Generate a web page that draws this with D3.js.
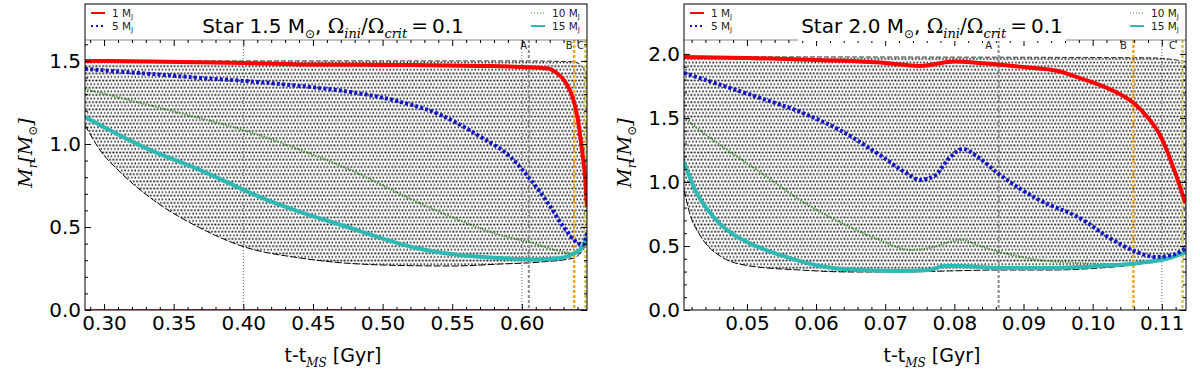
<!DOCTYPE html>
<html>
<head>
<meta charset="utf-8">
<script src="https://cdn.jsdelivr.net/npm/d3@7"></script>
<style>
  body { margin: 0; background: #fff; }
  svg { display: block; }
</style>
</head>
<body>
<script>
// ---- data: [t - t_MS (Gyr), M_r (M_sun)] ----

// Star 1.5 Msun
const s15Red = [[0.2863,1.50],[0.333,1.497],[0.40,1.488],[0.441,1.479],[0.513,1.476],[0.5705,1.47],
  [0.599,1.464],[0.6187,1.455],[0.6245,1.431],[0.6317,1.367],[0.6367,1.277],[0.6403,1.145],
  [0.6432,0.964],[0.6453,0.813],[0.6468,0.62]];
const s15Blue = [[0.2863,1.452],[0.333,1.422],[0.369,1.398],[0.40,1.38],[0.441,1.349],[0.477,1.313],
  [0.513,1.253],[0.5417,1.175],[0.5705,1.042],[0.592,0.92],[0.6065,0.783],[0.6187,0.645],[0.630,0.50],
  [0.640,0.404],[0.644,0.392],[0.6468,0.464]];
const s15Green = [[0.2863,1.331],[0.3597,1.175],[0.40,1.084],[0.441,0.964],[0.477,0.843],[0.5216,0.663],
  [0.5547,0.542],[0.582,0.458],[0.610,0.398],[0.6237,0.361],[0.6374,0.343],[0.6468,0.392]];
const s15Cyan = [[0.2863,1.163],[0.333,0.964],[0.369,0.843],[0.417,0.663],[0.441,0.59],[0.477,0.494],
  [0.50,0.43],[0.5273,0.367],[0.5547,0.331],[0.585,0.313],[0.610,0.304],[0.628,0.313],[0.6374,0.34],
  [0.6424,0.367],[0.6468,0.44]];
const s15HatchTop = [[0.2863,1.50],[0.45,1.50],[0.60,1.50],[0.6374,1.495],[0.6424,1.475],[0.6468,1.43]];
const s15HatchBottom = [[0.2863,1.114],[0.297,0.964],[0.3115,0.831],[0.3353,0.663],[0.369,0.494],
  [0.4007,0.38],[0.441,0.313],[0.50,0.271],[0.549,0.265],[0.585,0.277],[0.6137,0.289],[0.6374,0.313],
  [0.6468,0.398]];
const s15Marks = [0.605, 0.6376, 0.6457];
const s15Dotted = [0.40, 0.60];

// Star 2.0 Msun
const s20Red = [[0.0409,1.977],[0.050,1.969],[0.060,1.953],[0.070,1.93],[0.075,1.906],[0.080,1.94],
  [0.0835,1.93],[0.090,1.898],[0.095,1.867],[0.0981,1.8125],[0.101,1.758],[0.1039,1.6875],
  [0.1061,1.609],[0.1079,1.508],[0.1094,1.398],[0.1107,1.25],[0.1121,1.047],[0.1134,0.836]];
const s20Blue = [[0.0409,1.852],[0.0462,1.758],[0.0519,1.656],[0.0577,1.547],[0.0634,1.406],[0.0692,1.211],
  [0.0728,1.078],[0.075,1.016],[0.0771,1.047],[0.0793,1.188],[0.0812,1.258],[0.0834,1.195],[0.0866,1.055],
  [0.0923,0.859],[0.0981,0.719],[0.1029,0.547],[0.1064,0.453],[0.1092,0.414],[0.1116,0.43],[0.1135,0.484]];
const s20Green = [[0.0409,1.50],[0.0461,1.289],[0.0519,1.078],[0.0577,0.859],[0.0634,0.6875],[0.0692,0.547],
  [0.0736,0.469],[0.0764,0.484],[0.0793,0.531],[0.0811,0.547],[0.0837,0.50],[0.0866,0.453],[0.0923,0.39],
  [0.0981,0.367],[0.1039,0.359],[0.1082,0.375],[0.1135,0.453]];
const s20Cyan = [[0.0409,1.156],[0.0425,0.9375],[0.0447,0.758],[0.0475,0.609],[0.050,0.531],[0.0548,0.43],
  [0.0605,0.344],[0.0663,0.3125],[0.0721,0.305],[0.0764,0.3125],[0.0786,0.344],[0.0808,0.344],[0.0866,0.328],
  [0.0938,0.328],[0.101,0.344],[0.1068,0.367],[0.1111,0.406],[0.1135,0.453]];
const s20HatchTop = [[0.0409,1.977],[0.080,1.975],[0.108,1.97],[0.1111,1.96],[0.1135,1.94]];
const s20HatchBottom = [[0.0409,0.9375],[0.0418,0.742],[0.0432,0.586],[0.0461,0.422],[0.0504,0.344],
  [0.0577,0.3125],[0.0649,0.297],[0.0721,0.297],[0.0793,0.305],[0.0866,0.3125],[0.0938,0.3125],
  [0.101,0.328],[0.1068,0.359],[0.1111,0.406],[0.1135,0.453]];
const s20Marks = [0.0864, 0.1059, 0.1130];
const s20Dotted = [0.11];

const markLabels = ['A', 'B', 'C'];
const markColours = ['#8a8a8a', '#f0a51c', '#c9c94e'];

const width = 1200;
const height = 371;
const plotTop = 4, plotBottom = 310, legendLine = 40;

const svg = d3.select('body').append('svg')
    .attr('width', width)
    .attr('height', height);

const defs = svg.append('defs');
const pat = defs.append('pattern')
    .attr('id', 'dots')
    .attr('patternUnits', 'userSpaceOnUse')
    .attr('width', 3.4)
    .attr('height', 7.2);
pat.append('rect').attr('x', 0.3).attr('y', 0.5).attr('width', 1.8).attr('height', 1.7).attr('fill', '#111');
pat.append('rect').attr('x', 2.0).attr('y', 4.1).attr('width', 1.8).attr('height', 1.7).attr('fill', '#111');

function drawPanel(p) {
    const x = d3.scaleLinear().domain(p.xDomain).range([p.left, p.right]);
    const y = d3.scaleLinear().domain(p.yDomain).range([plotBottom, plotTop]);
    const g = svg.append('g');

    const clipId = 'clip' + p.id;
    defs.append('clipPath').attr('id', clipId)
        .append('rect')
          .attr('x', p.left).attr('y', plotTop)
          .attr('width', p.right - p.left).attr('height', plotBottom - plotTop);
    const plot = g.append('g').attr('clip-path', `url(#${clipId})`);

    const line = d3.line().x(d => x(d[0])).y(d => y(d[1])).curve(d3.curveMonotoneX);
    const straight = d3.line().x(d => x(d[0])).y(d => y(d[1]));

    // hatched envelope
    const back = line(p.hatchBottom.slice().reverse());
    plot.append('path')
        .attr('d', line(p.hatchTop) + 'L' + back.slice(1) + 'Z')
        .attr('fill', 'url(#dots)');
    plot.append('path').datum(p.hatchTop)
        .attr('d', line).attr('fill', 'none')
        .attr('stroke', '#000').attr('stroke-width', 0.8).attr('stroke-dasharray', '5,2');
    plot.append('path').datum(p.hatchBottom)
        .attr('d', line).attr('fill', 'none')
        .attr('stroke', '#000').attr('stroke-width', 1).attr('stroke-dasharray', '7,2');

    // thin dotted guide lines
    plot.selectAll('.guide').data(p.dotted).enter()
        .append('line')
          .attr('x1', d => x(d)).attr('x2', d => x(d))
          .attr('y1', legendLine).attr('y2', plotBottom)
          .attr('stroke', '#444').attr('stroke-width', 0.8).attr('stroke-dasharray', '1,2');

    // phase markers A, B, C
    plot.selectAll('.mark').data(p.marks).enter()
        .append('line')
          .attr('x1', d => x(d)).attr('x2', d => x(d))
          .attr('y1', legendLine).attr('y2', plotBottom)
          .attr('stroke', (d, i) => markColours[i])
          .attr('stroke-width', (d, i) => i === 0 ? 2 : 2.4)
          .attr('stroke-dasharray', '3,2');

    // red line at zero
    if (p.zeroLine) {
        plot.append('path').datum([[p.xDomain[0], 0], [p.xDomain[1], 0]])
            .attr('d', straight).attr('stroke', '#b22').attr('stroke-width', 1.5);
    }

    // curves
    plot.append('path').datum(p.green)
        .attr('d', line).attr('fill', 'none')
        .attr('stroke', '#3d8a2e').attr('stroke-width', 2).attr('stroke-dasharray', '1.2,1.3');
    plot.append('path').datum(p.cyan)
        .attr('d', line).attr('fill', 'none')
        .attr('stroke', '#2fb9b4').attr('stroke-width', 4);
    plot.append('path').datum(p.blue)
        .attr('d', line).attr('fill', 'none')
        .attr('stroke', '#1414c8').attr('stroke-width', 4).attr('stroke-dasharray', '3,2.2');
    plot.append('path').datum(p.red)
        .attr('d', line).attr('fill', 'none')
        .attr('stroke', '#ff0000').attr('stroke-width', 4);

    // legend / title area
    g.append('rect')
        .attr('x', p.left).attr('y', plotTop)
        .attr('width', p.right - p.left).attr('height', legendLine - plotTop)
        .attr('fill', '#fff');
    g.append('line')
        .attr('x1', p.left).attr('x2', p.right)
        .attr('y1', legendLine).attr('y2', legendLine)
        .attr('stroke', '#666').attr('stroke-width', 0.8);

    g.selectAll('.mlabel').data(p.marks).enter()
        .append('text')
          .attr('x', d => x(d) + p.labelShift)
          .attr('y', legendLine + 9)
          .attr('text-anchor', 'middle')
          .attr('font-family', 'DejaVu Sans')
          .attr('font-size', 10)
          .attr('fill', '#222')
          .text((d, i) => markLabels[i]);

    // axes
    const fmtX = d3.format('.2f');
    const styleAxis = sel => {
        sel.select('.domain').remove();
        sel.selectAll('.tick line').attr('stroke', '#000');
        sel.selectAll('text').attr('font-family', 'DejaVu Sans').attr('font-size', 20).attr('fill', '#000');
    };
    g.append('g').attr('transform', `translate(0,${plotBottom})`)
        .call(d3.axisBottom(x).tickValues(p.xMajor).tickFormat(fmtX).tickSize(-6).tickPadding(6))
        .call(styleAxis);
    g.append('g').attr('transform', `translate(0,${plotBottom})`)
        .call(d3.axisBottom(x).tickValues(p.xMinor).tickFormat('').tickSize(-3))
        .call(styleAxis);
    g.append('g').attr('transform', `translate(0,${legendLine})`)
        .call(d3.axisBottom(x).tickValues(p.xMajor).tickFormat('').tickSize(6))
        .call(styleAxis);
    g.append('g').attr('transform', `translate(0,${legendLine})`)
        .call(d3.axisBottom(x).tickValues(p.xMinor).tickFormat('').tickSize(3))
        .call(styleAxis);

    const yMinor = p.yMinor.filter(v => y(v) > legendLine + 2);
    g.append('g').attr('transform', `translate(${p.left},0)`)
        .call(d3.axisLeft(y).tickValues(p.yMajor).tickFormat(d3.format('.1f')).tickSize(-6).tickPadding(4))
        .call(styleAxis);
    g.append('g').attr('transform', `translate(${p.left},0)`)
        .call(d3.axisLeft(y).tickValues(yMinor).tickFormat('').tickSize(-3))
        .call(styleAxis);
    g.append('g').attr('transform', `translate(${p.right},0)`)
        .call(d3.axisRight(y).tickValues(p.yMajor).tickFormat('').tickSize(-6))
        .call(styleAxis);
    g.append('g').attr('transform', `translate(${p.right},0)`)
        .call(d3.axisRight(y).tickValues(yMinor).tickFormat('').tickSize(-3))
        .call(styleAxis);

    // frame
    g.append('rect')
        .attr('x', p.left).attr('y', plotTop)
        .attr('width', p.right - p.left).attr('height', plotBottom - plotTop)
        .attr('fill', 'none').attr('stroke', '#000').attr('stroke-width', 1);

    // title
    const cx = (p.left + p.right) / 2 - 3;
    const titleBox = g.append('rect').attr('fill', '#fff');
    const title = g.append('text')
        .attr('x', cx).attr('y', 33)
        .attr('text-anchor', 'middle')
        .attr('font-family', 'DejaVu Sans')
        .attr('font-size', 20)
        .attr('fill', '#000');
    title.append('tspan').text(`Star ${p.star} M`);
    title.append('tspan').attr('font-size', 12).attr('dy', 5).text('\u2299');
    title.append('tspan').attr('dy', -5).text(', ');
    title.append('tspan').attr('font-family', 'DejaVu Serif').text('\u03A9');
    title.append('tspan').attr('font-family', 'DejaVu Serif').attr('font-style', 'italic')
        .attr('font-size', 13).attr('dy', 5).text('ini');
    title.append('tspan').attr('font-family', 'DejaVu Serif').attr('dy', -5).text('/\u03A9');
    title.append('tspan').attr('font-family', 'DejaVu Serif').attr('font-style', 'italic')
        .attr('font-size', 13).attr('dy', 5).text('crit');
    title.append('tspan').attr('font-family', 'DejaVu Serif').attr('dy', -5).text('\u2009=\u2009');
    title.append('tspan').text('0.1');
    if (p.titleBox) {
        const bb = title.node().getBBox();
        titleBox.attr('x', bb.x - 3).attr('y', legendLine - 1)
            .attr('width', bb.width + 6).attr('height', 2);
    }

    // legends
    const legendItem = (lx, ly, label, stroke, sw, dash) => {
        g.append('line')
            .attr('x1', lx).attr('x2', lx + 14).attr('y1', ly).attr('y2', ly)
            .attr('stroke', stroke).attr('stroke-width', sw)
            .attr('stroke-dasharray', dash);
        const t = g.append('text')
            .attr('x', lx + 21).attr('y', ly + 4)
            .attr('font-family', 'DejaVu Sans').attr('font-size', 10.5).attr('fill', '#222');
        t.append('tspan').text(label + ' M');
        t.append('tspan').attr('font-size', 7).attr('dy', 2).text('J');
    };
    legendItem(p.left + 6, 13, '1', '#ff0000', 2, null);
    legendItem(p.left + 6, 26, '5', '#1414c8', 2, '2,3');
    legendItem(p.right - 56, 13, '10', '#3d8a2e', 1, '1,2');
    legendItem(p.right - 56, 26, '15', '#2fb9b4', 2, null);

    // axis labels
    const xl = svg.append('text')
        .attr('x', cx).attr('y', 362)
        .attr('text-anchor', 'middle')
        .attr('font-family', 'DejaVu Sans').attr('font-size', 19).attr('fill', '#000');
    xl.append('tspan').text('t-t');
    xl.append('tspan').attr('font-family', 'DejaVu Serif').attr('font-style', 'italic')
        .attr('font-size', 12).attr('dy', 5).text('MS');
    xl.append('tspan').attr('dy', -5).text(' [Gyr]');

    const yl = svg.append('text')
        .attr('transform', `translate(${p.left - 53},${(plotTop + plotBottom) / 2 - 4}) rotate(-90)`)
        .attr('text-anchor', 'middle')
        .attr('font-family', 'DejaVu Serif').attr('font-style', 'italic')
        .attr('font-size', 19).attr('fill', '#000');
    yl.append('tspan').text('M');
    yl.append('tspan').attr('font-size', 12).attr('dy', 5).text('r');
    yl.append('tspan').attr('dy', -5).text('[M');
    yl.append('tspan').attr('font-size', 12).attr('dy', 5).attr('font-style', 'normal').text('\u2299');
    yl.append('tspan').attr('dy', -5).text(']');
}

drawPanel({
    id: 'a', star: '1.5', left: 85, right: 587,
    xDomain: [0.2863, 0.6468], yDomain: [0, 1.843],
    xMajor: [0.30, 0.35, 0.40, 0.45, 0.50, 0.55, 0.60],
    xMinor: d3.range(29, 65).map(v => v / 100).filter(v => Math.round(v * 100) % 5 !== 0),
    yMajor: [0, 0.5, 1.0, 1.5],
    yMinor: d3.range(1, 19).map(v => v / 10).filter(v => Math.round(v * 10) % 5 !== 0),
    red: s15Red, blue: s15Blue, green: s15Green, cyan: s15Cyan,
    hatchTop: s15HatchTop, hatchBottom: s15HatchBottom,
    marks: s15Marks, dotted: s15Dotted, labelShift: -5, zeroLine: true, titleBox: false
});

drawPanel({
    id: 'b', star: '2.0', left: 684, right: 1186,
    xDomain: [0.0409, 0.1135], yDomain: [0, 2.39],
    xMajor: [0.05, 0.06, 0.07, 0.08, 0.09, 0.10, 0.11],
    xMinor: d3.range(42, 114, 2).map(v => v / 1000).filter(v => Math.round(v * 1000) % 10 !== 0),
    yMajor: [0, 0.5, 1.0, 1.5, 2.0],
    yMinor: d3.range(1, 24).map(v => v / 10).filter(v => Math.round(v * 10) % 5 !== 0),
    red: s20Red, blue: s20Blue, green: s20Green, cyan: s20Cyan,
    hatchTop: s20HatchTop, hatchBottom: s20HatchBottom,
    marks: s20Marks, dotted: s20Dotted, labelShift: -10, zeroLine: false, titleBox: true
});
</script>
</body>
</html>
